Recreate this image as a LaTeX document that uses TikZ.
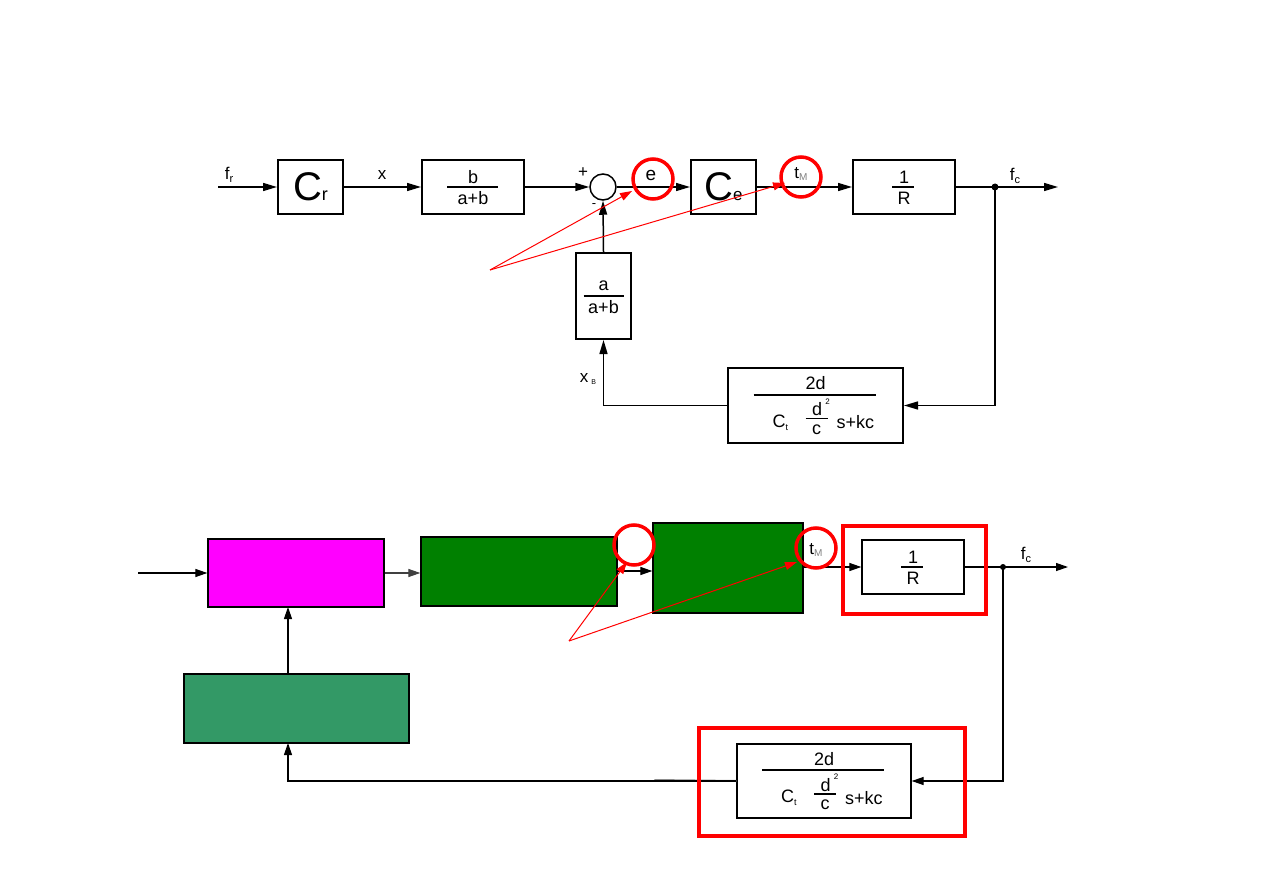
\documentclass[tikz,border=0pt]{standalone}
\usepackage{fontspec}
\setmainfont{Liberation Sans}
\usetikzlibrary{arrows.meta,calc}
\newcommand\sbx[2][8]{\raisebox{-0.3ex}{\fontsize{#1}{#1}\selectfont #2}}
\newcommand\bigtxt{\fontsize{18}{20}\selectfont}
\definecolor{mag}{RGB}{255,0,255}
\definecolor{grn}{RGB}{0,128,0}
\definecolor{sgrn}{RGB}{51,153,102}
\begin{document}
\begin{tikzpicture}[x=1pt,y=-1pt, font=\fontsize{17}{19}\selectfont,
  blk/.style={draw, line width=2pt, inner sep=0pt, fill=white},
  blkb/.style={draw, line width=1.3pt, inner sep=0pt},
  sig/.style={line width=1.5pt, -{Triangle[length=14pt,width=8pt]}},
  sigb/.style={line width=1.2pt, -{Triangle[length=12pt,width=8pt]}},
  fline/.style={line width=1.5pt},
  hlc/.style={draw=red, line width=3.5pt, circle, minimum size=40pt, inner sep=0pt},
  hlr/.style={draw=red, line width=4pt, inner sep=0pt},
  pointer/.style={draw=red, line width=1pt, -{Triangle[length=12pt,width=8pt]}},
  lbl/.style={inner sep=0pt},
  frac/.style={inner sep=0pt, font=\bigtxt},
  dot/.style={circle, fill, inner sep=0pt, minimum size=7pt}
]
\useasboundingbox (0,0) rectangle (1263,893);

% ================= TOP DIAGRAM =================
\node[blk, minimum width=65pt, minimum height=54pt] (Cr) at (310.5,187) {};
\node[lbl] at (Cr.center) {\fontsize{40}{40}\selectfont C\fontsize{18}{18}\selectfont r};
\node[blk, minimum width=102pt, minimum height=54pt] (Bb) at (473,187) {};
\node[circle, draw, line width=1.5pt, minimum size=26pt, inner sep=0pt] (sum) at (603,187) {};
\node[blk, minimum width=65pt, minimum height=54pt] (Ce) at (723.5,187) {};
\node[lbl] at (Ce.center) {\fontsize{40}{40}\selectfont C\fontsize{17}{17}\selectfont e};
\node[blk, minimum width=102pt, minimum height=54pt] (R1) at (904,187) {};
\node[blk, minimum width=55pt, minimum height=86pt] (A1) at (603.5,296) {};
\node[blk, minimum width=175pt, minimum height=75pt] (F1) at (815.5,405.5) {};

% fractions (top)
\begin{scope}[shift={(Bb.center)}]
  \node[frac] at (0,-10) {b};
  \draw[fline] (-26,0) -- (25,0);
  \node[frac] at (0,11) {a+b};
\end{scope}
\begin{scope}[shift={(A1.center)}]
  \node[frac] at (0,-10) {a};
  \draw[fline] (-20,0) -- (20,0);
  \node[frac] at (0,11) {a+b};
\end{scope}
\begin{scope}[shift={(R1.center)}]
  \node[frac] at (0,-10) {1};
  \draw[fline] (-12,0) -- (10,0);
  \node[frac] at (0,11) {R};
\end{scope}
\begin{scope}[shift={(F1.center)}]
  \node[frac] at (0,-22) {2d};
  \draw[line width=2pt] (-62,-11) -- (60,-11);
  \node[frac, anchor=west] at (-43,17) {C\sbx[9]{t}};
  \node[frac] at (1.5,4) {d};
  \node[lbl] at (12,-4) {\fontsize{8}{8}\selectfont 2};
  \draw[fline] (-10,13) -- (12,13);
  \node[frac] at (1,24) {c};
  \node[frac, anchor=west] at (21,17) {s+kc};
\end{scope}

% connectors (top)
\coordinate (in1) at (218,187);
\coordinate (out1) at (1058,187);
\coordinate (j1) at (995,187);
\draw[sig] (in1) -- (Cr.west);
\draw[sig] (Cr.east) -- (Bb.west);
\draw[sig] (Bb.east) -- (sum.west);
\draw[sig] (sum.east) -- (Ce.west);
\draw[sig] (Ce.east) -- (R1.west);
\draw[sig] (R1.east) -- (out1);
\node[dot] (j1d) at (j1) {};
\draw[sig] (j1) |- (F1.east);
\draw[sig] (F1.west) -| (A1.south);
\draw[sig] (A1.north) -- (sum.south);

% labels (top)
\node[lbl] at (229,175) {f\sbx[11]{r}};
\node[lbl] at (382,175) {x};
\node[lbl] at (583,173) {+};
\node[lbl] at (594,206) {\fontsize{13}{13}\selectfont -};
\node[lbl] at (651,175) {\fontsize{19}{19}\selectfont e};
\node[lbl] at (801,174) {t{\color{gray}\sbx[10]{M}}};
\node[lbl] at (1015,176) {f\sbx[11]{c}};
\node[lbl] at (588,379) {x\hspace{3pt}\sbx[7]{B}};

% highlights (top)
\node[hlc] (ce1) at (653,179) {};
\node[hlc] (ct1) at (801,177) {};
\coordinate (p1) at (490,270);
\draw[pointer] (p1) -- (632,191);
\draw[pointer] (p1) -- (785,183);

% ================= BOTTOM DIAGRAM =================
\node[blkb, fill=mag, minimum width=176pt, minimum height=68pt] (Mg) at (296,573) {};
\node[blkb, fill=grn, minimum width=196pt, minimum height=69pt] (G1) at (519,571.5) {};
\node[blkb, fill=grn, minimum width=150pt, minimum height=90pt] (G2) at (728,568) {};
\node[blkb, fill=white, minimum width=102pt, minimum height=54pt] (R2) at (913,567) {};
\node[blkb, fill=sgrn, minimum width=225pt, minimum height=69pt] (Sg) at (296.5,708.5) {};
\node[blkb, fill=white, minimum width=174pt, minimum height=74pt] (F2) at (824,781) {};

\begin{scope}[shift={(R2.center)}]
  \node[frac] at (0,-10) {1};
  \draw[line width=1.2pt] (-12,0) -- (10,0);
  \node[frac] at (0,11) {R};
\end{scope}
\begin{scope}[shift={(F2.center)}]
  \node[frac] at (0,-22) {2d};
  \draw[line width=2pt] (-62,-11) -- (60,-11);
  \node[frac, anchor=west] at (-43,17) {C\sbx[9]{t}};
  \node[frac] at (1.5,4) {d};
  \node[lbl] at (12,-4) {\fontsize{8}{8}\selectfont 2};
  \draw[fline] (-10,13) -- (12,13);
  \node[frac] at (1,24) {c};
  \node[frac, anchor=west] at (21,17) {s+kc};
\end{scope}

\coordinate (in2) at (138,573);
\coordinate (out2) at (1068,567);
\coordinate (j2) at (1003,567);
\coordinate (sgin) at (288,743);
\coordinate (sgout) at (288,674);
\coordinate (mgin) at (288,607);
\draw[sigb] (in2) -- (Mg.west);
\draw[sigb, black!75] (Mg.east) -- (Mg.east -| G1.west);
\draw[sigb] (G1.east |- 0,571) -- (G2.west |- 0,571);
\draw[sigb] (G2.east |- R2.west) -- (R2.west);
\draw[sigb] (R2.east) -- (out2);
\node[dot, minimum size=6pt] (j2d) at (j2) {};
\draw[sigb] (j2) |- (F2.east);
\draw[line width=2pt, black!45] ($(F2.west)+(-82,-1)$) -- (F2.west);
\draw[sigb] (F2.west) -| (sgin);
\draw[sigb] (sgout) -- (mgin);

\node[lbl] at (816,550) {t{\color{gray}\sbx[10]{M}}};
\node[lbl] at (1026,555) {f\sbx[11]{c}};

% highlights (bottom)
\node[hlr, minimum width=143pt, minimum height=88pt] (hr1) at (914.5,570) {};
\node[hlr, minimum width=266pt, minimum height=108pt] (hr2) at (832,782) {};
\node[hlc] (ce2) at (634,545) {};
\node[hlc] (ct2) at (816,548) {};
\coordinate (p2) at (569,641);
\draw[pointer] (p2) -- (627,562);
\draw[pointer] (p2) -- (797,562);
\end{tikzpicture}
\end{document}
